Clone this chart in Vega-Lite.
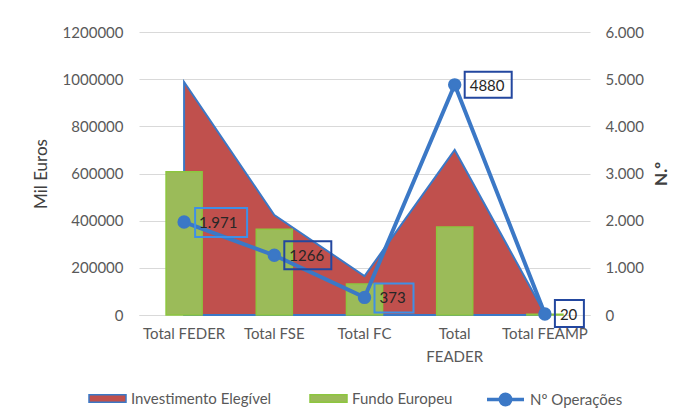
{
  "$schema": "https://vega.github.io/schema/vega-lite/v6.json",
  "width": 451,
  "height": 283,
  "autosize": {"type": "none"},
  "padding": {"left": 139, "top": 32, "right": 104, "bottom": 104},
  "background": "white",
  "config": {
    "view": {"stroke": null},
    "font": "Lato",
    "axis": {"labelFont": "Lato", "titleFont": "Lato", "labelColor": "#595959", "titleColor": "#404040", "labelFontSize": 15, "titleFontSize": 17, "titleFontWeight": "normal"},
    "legend": {"labelFont": "Lato", "labelFontSize": 15, "labelColor": "#595959", "labelOffset": 4, "symbolSize": 1369, "title": null, "orient": "none", "direction": "horizontal", "symbolOpacity": 1}
  },
  "data": {
    "values": [
      {"cat": "Total FEDER", "invest": 988000, "fundo": 607000, "ops": 1971, "label": "1.971"},
      {"cat": "Total FSE", "invest": 424000, "fundo": 364000, "ops": 1266, "label": "1266"},
      {"cat": "Total FC", "invest": 165000, "fundo": 131000, "ops": 373, "label": "373"},
      {"cat": "Total FEADER", "invest": 700000, "fundo": 373000, "ops": 4880, "label": "4880"},
      {"cat": "Total FEAMP", "invest": 5000, "fundo": 3500, "ops": 20, "label": "20"}
    ]
  },
  "encoding": {
    "x": {
      "field": "cat", "type": "nominal", "sort": null,
      "scale": {"paddingInner": 0, "paddingOuter": 0},
      "axis": {
        "title": null, "labelAngle": 0, "ticks": false, "domain": true, "domainColor": "#D9D9D9",
        "labelPadding": 11, "labelLineHeight": 23,
        "labelExpr": "datum.label == 'Total FEADER' ? ['Total', 'FEADER'] : datum.label"
      }
    }
  },
  "layer": [
    {
      "layer": [
        {
          "mark": {"type": "area", "stroke": "#3B78C6", "strokeWidth": 2, "opacity": 1},
          "encoding": {
            "y": {"field": "invest", "type": "quantitative", "scale": {"domain": [0, 1200000]},
              "axis": {"title": "Mil Euros", "values": [0, 200000, 400000, 600000, 800000, 1000000, 1200000], "format": "d", "grid": true, "gridColor": "#D9D9D9", "domain": false, "ticks": false, "labelPadding": 16, "titlePadding": 12}},
            "fill": {
              "datum": "Investimento Elegível",
              "scale": {"domain": ["Investimento Elegível"], "range": ["#C0504D"]},
              "legend": {"legendX": -51, "legendY": 347, "symbolType": "M-1,-0.2H1V0.2H-1Z", "symbolStrokeColor": "#3B78C6", "symbolStrokeWidth": 1.5, "symbolFillColor": "#C0504D"}
            }
          }
        },
        {
          "mark": {"type": "bar", "width": {"band": 0.4}, "stroke": "#8DC63F", "strokeWidth": 1.5},
          "encoding": {
            "y": {"field": "fundo", "type": "quantitative", "scale": {"domain": [0, 1200000]},
              "axis": {"title": "Mil Euros", "values": [0, 200000, 400000, 600000, 800000, 1000000, 1200000], "format": "d", "grid": true, "gridColor": "#D9D9D9", "domain": false, "ticks": false, "labelPadding": 16, "titlePadding": 12}},
            "color": {
              "datum": "Fundo Europeu",
              "scale": {"domain": ["Fundo Europeu"], "range": ["#9BBB59"]},
              "legend": {"legendX": 170, "legendY": 347, "symbolType": "M-1,-0.2H1V0.2H-1Z", "symbolStrokeColor": "#8DC63F", "symbolStrokeWidth": 1.5, "symbolFillColor": "#9BBB59"}
            }
          }
        }
      ]
    },
    {
      "layer": [
        {
          "mark": {"type": "line", "strokeWidth": 4, "point": {"filled": true, "size": 130, "fill": "#3B78C6", "stroke": "#3B78C6"}},
          "encoding": {
            "y": {"field": "ops", "type": "quantitative", "scale": {"domain": [0, 6000]},
              "axis": {"orient": "right", "title": "N.º", "titleAngle": 270, "titleBaseline": "top", "values": [0, 1000, 2000, 3000, 4000, 5000, 6000], "labelExpr": "replace(format(datum.value, ','), ',', '.')", "grid": false, "domain": false, "ticks": false, "labelPadding": 15, "titlePadding": 10, "titleFontWeight": "bold"}},
            "stroke": {
              "datum": "Nº Operações",
              "scale": {"domain": ["Nº Operações"], "range": ["#3B78C6"]},
              "legend": {"legendX": 346, "legendY": 347, "symbolType": "M-1,0H1M0.28,0A0.28,0.28 0 1,1 -0.28,0A0.28,0.28 0 1,1 0.28,0Z", "symbolStrokeColor": "#3B78C6", "symbolStrokeWidth": 3.5, "symbolFillColor": "#3B78C6"}
            }
          }
        },
        {
          "transform": [{"filter": "datum.label == '1.971' || datum.label == '373'"}],
          "mark": {"type": "point", "filled": false, "size": 4, "strokeWidth": 2, "opacity": 1, "stroke": "#3F8FE6"},
          "encoding": {
            "y": {"field": "ops", "type": "quantitative", "scale": {"domain": [0, 6000]},
              "axis": {"orient": "right", "title": "N.º", "titleAngle": 270, "titleBaseline": "top", "values": [0, 1000, 2000, 3000, 4000, 5000, 6000], "labelExpr": "replace(format(datum.value, ','), ',', '.')", "grid": false, "domain": false, "ticks": false, "labelPadding": 15, "titlePadding": 10, "titleFontWeight": "bold"}},
            "shape": {"field": "label", "type": "nominal",
              "scale": {"domain": ["1.971", "1266", "373", "4880", "20"], "range": ["M11,-14H63V15H11Z", "M10,-14H57V14H10Z", "M10,-14H49V15H10Z", "M10,-13H57V13H10Z", "M10,-14H39V13H10Z"]},
              "legend": null}
          }
        },
        {
          "transform": [{"filter": "datum.label != '1.971' && datum.label != '373'"}],
          "mark": {"type": "point", "filled": false, "size": 4, "strokeWidth": 2, "opacity": 1, "stroke": "#23479F"},
          "encoding": {
            "y": {"field": "ops", "type": "quantitative", "scale": {"domain": [0, 6000]},
              "axis": {"orient": "right", "title": "N.º", "titleAngle": 270, "titleBaseline": "top", "values": [0, 1000, 2000, 3000, 4000, 5000, 6000], "labelExpr": "replace(format(datum.value, ','), ',', '.')", "grid": false, "domain": false, "ticks": false, "labelPadding": 15, "titlePadding": 10, "titleFontWeight": "bold"}},
            "shape": {"field": "label", "type": "nominal",
              "scale": {"domain": ["1.971", "1266", "373", "4880", "20"], "range": ["M11,-14H63V15H11Z", "M10,-14H57V14H10Z", "M10,-14H49V15H10Z", "M10,-13H57V13H10Z", "M10,-14H39V13H10Z"]},
              "legend": null}
          }
        },
        {
          "mark": {"type": "text", "align": "left", "baseline": "middle", "dx": 15, "dy": 1, "font": "Lato", "fontSize": 15, "color": "#262626"},
          "encoding": {
            "y": {"field": "ops", "type": "quantitative", "scale": {"domain": [0, 6000]},
              "axis": {"orient": "right", "title": "N.º", "titleAngle": 270, "titleBaseline": "top", "values": [0, 1000, 2000, 3000, 4000, 5000, 6000], "labelExpr": "replace(format(datum.value, ','), ',', '.')", "grid": false, "domain": false, "ticks": false, "labelPadding": 15, "titlePadding": 10, "titleFontWeight": "bold"}},
            "text": {"field": "label"}
          }
        }
      ]
    }
  ],
  "resolve": {"scale": {"y": "independent"}}
}
